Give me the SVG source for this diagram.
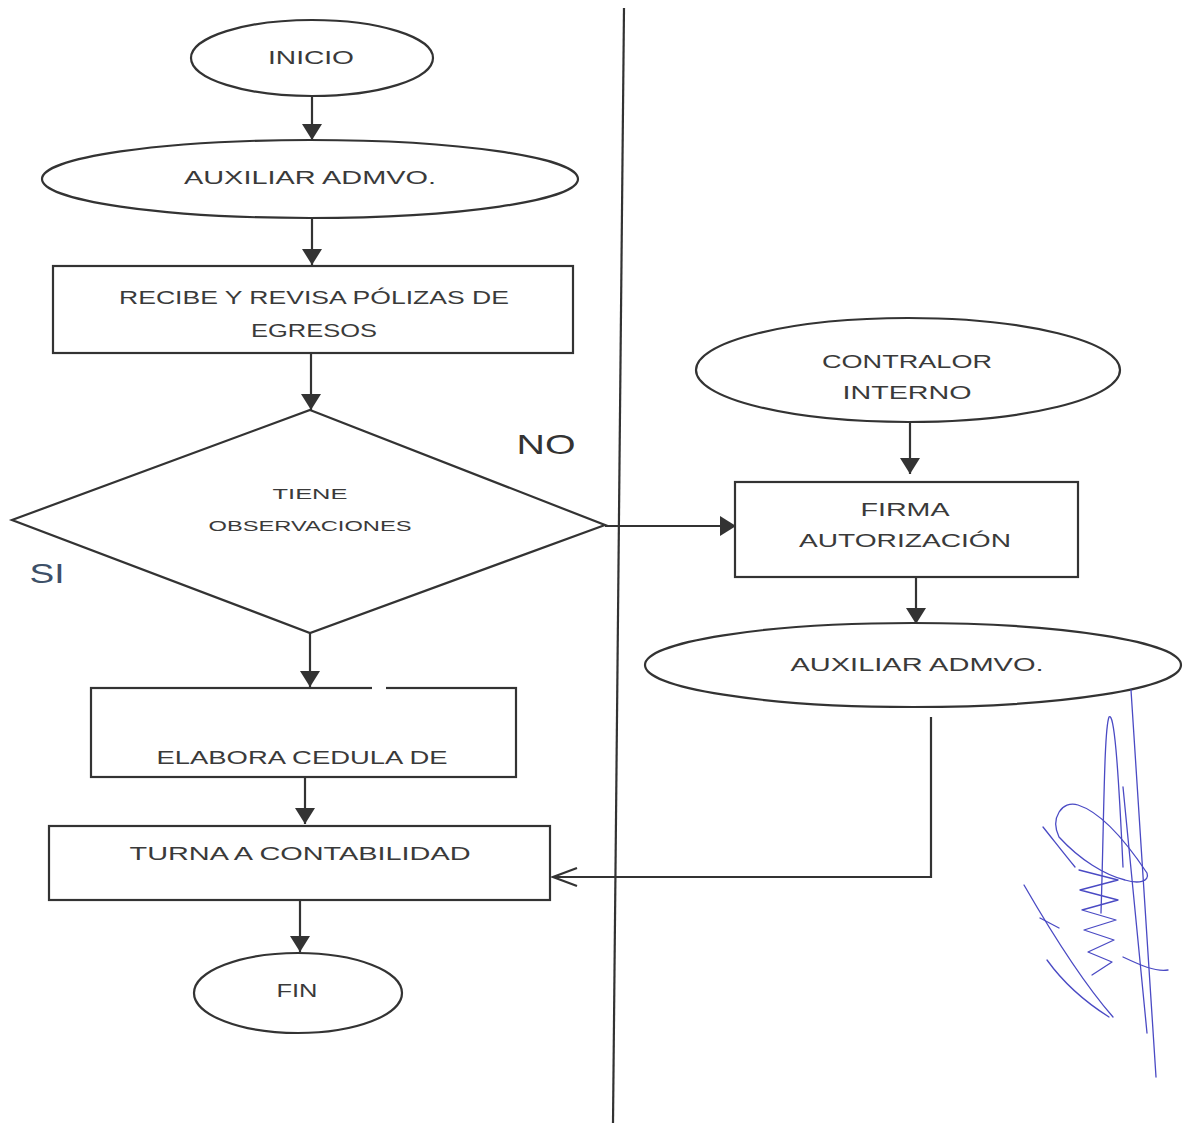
<svg xmlns="http://www.w3.org/2000/svg" width="1183" height="1123" viewBox="0 0 1183 1123">
<style>
.shape{fill:#fff;stroke:#333;stroke-width:2.2}
.t{font-family:"Liberation Sans","Open Sans",Arial,sans-serif;font-size:18px;fill:#3a3a3a;text-anchor:middle}
.s{font-size:15px}
.lbl{font-family:"Liberation Sans","Open Sans",Arial,sans-serif;font-size:28px;fill:#333;text-anchor:middle}
.con{fill:none;stroke:#333;stroke-width:2.2}
.sig{fill:none;stroke:#4a4ac4;stroke-width:1.3;stroke-linecap:round;stroke-linejoin:round}
</style>
<defs>
<marker id="ah" markerUnits="userSpaceOnUse" markerWidth="22" markerHeight="22" refX="16" refY="10" orient="auto">
<path d="M0,0 L16,10 L0,20 Z" fill="#333"/>
</marker>
<marker id="oh" markerUnits="userSpaceOnUse" markerWidth="30" markerHeight="24" refX="25" refY="11" orient="auto">
<path d="M1,2 L25,11 L1,20" fill="none" stroke="#333" stroke-width="2.2"/>
</marker>
</defs>
<rect width="1183" height="1123" fill="#fff"/>
<line x1="624" y1="8" x2="613" y2="1123" stroke="#333" stroke-width="2.2"/>
<g id="connectors">
<line class="con" x1="312" y1="95" x2="312" y2="140" marker-end="url(#ah)"/>
<line class="con" x1="312" y1="218" x2="312" y2="265" marker-end="url(#ah)"/>
<line class="con" x1="311" y1="353" x2="311" y2="410" marker-end="url(#ah)"/>
<line class="con" x1="310" y1="633" x2="310" y2="687" marker-end="url(#ah)"/>
<line class="con" x1="305" y1="777" x2="305" y2="824" marker-end="url(#ah)"/>
<line class="con" x1="300" y1="900" x2="300" y2="952" marker-end="url(#ah)"/>
<line class="con" x1="605" y1="526" x2="736" y2="526" marker-end="url(#ah)"/>
<line class="con" x1="910" y1="423" x2="910" y2="474" marker-end="url(#ah)"/>
<line class="con" x1="916" y1="577" x2="916" y2="624" marker-end="url(#ah)"/>
<polyline class="con" points="931,717 931,877 553,877" marker-end="url(#oh)"/>
</g>
<g id="inicio">
<ellipse class="shape" cx="312" cy="58" rx="121" ry="38"/>
<text class="t" x="311" y="64" textLength="86" lengthAdjust="spacingAndGlyphs">INICIO</text>
</g>
<g id="auxiliar1">
<ellipse class="shape" cx="310" cy="179" rx="268" ry="39"/>
<text class="t" x="310" y="184" textLength="252" lengthAdjust="spacingAndGlyphs">AUXILIAR ADMVO.</text>
</g>
<g id="recibe">
<rect class="shape" x="53" y="266" width="520" height="87"/>
<text class="t" x="314" y="304" textLength="390" lengthAdjust="spacingAndGlyphs">RECIBE Y REVISA PÓLIZAS DE</text>
<text class="t" x="314" y="337" textLength="126" lengthAdjust="spacingAndGlyphs">EGRESOS</text>
</g>
<g id="decision">
<polygon class="shape" points="310,410 605,525 310,633 12,520"/>
<text class="t s" x="310" y="499" textLength="75" lengthAdjust="spacingAndGlyphs">TIENE</text>
<text class="t s" x="310" y="531" textLength="203" lengthAdjust="spacingAndGlyphs">OBSERVACIONES</text>
</g>
<text class="lbl" x="546" y="454" textLength="59" lengthAdjust="spacingAndGlyphs">NO</text>
<text class="lbl" x="47" y="583" style="fill:#3d5068" textLength="35" lengthAdjust="spacingAndGlyphs">SI</text>
<g id="elabora">
<rect class="shape" x="91" y="688" width="425" height="89"/>
<line x1="372" y1="688" x2="386" y2="688" stroke="#fff" stroke-width="4"/>
<text class="t" x="302" y="764" textLength="291" lengthAdjust="spacingAndGlyphs">ELABORA CEDULA DE</text>
</g>
<g id="turna">
<rect class="shape" x="49" y="826" width="501" height="74"/>
<text class="t" x="300" y="860" textLength="341" lengthAdjust="spacingAndGlyphs">TURNA A CONTABILIDAD</text>
</g>
<g id="fin">
<ellipse class="shape" cx="298" cy="993" rx="104" ry="40"/>
<text class="t" x="297" y="997" textLength="41" lengthAdjust="spacingAndGlyphs">FIN</text>
</g>
<g id="contralor">
<ellipse class="shape" cx="908" cy="370" rx="212" ry="52"/>
<text class="t" x="907" y="368" textLength="170" lengthAdjust="spacingAndGlyphs">CONTRALOR</text>
<text class="t" x="907" y="399" textLength="129" lengthAdjust="spacingAndGlyphs">INTERNO</text>
</g>
<g id="firma">
<rect class="shape" x="735" y="482" width="343" height="95"/>
<text class="t" x="905" y="516" textLength="89" lengthAdjust="spacingAndGlyphs">FIRMA</text>
<text class="t" x="905" y="547" textLength="212" lengthAdjust="spacingAndGlyphs">AUTORIZACIÓN</text>
</g>
<g id="auxiliar2">
<ellipse class="shape" cx="913" cy="665" rx="268" ry="42"/>
<text class="t" x="917" y="671" textLength="253" lengthAdjust="spacingAndGlyphs">AUXILIAR ADMVO.</text>
</g>
<g id="signature">
<path class="sig" d="M1131,690 L1156,1077"/>
<path class="sig" d="M1123,787 L1147,1033"/>
<path class="sig" d="M1101,913 C1104,820 1104,730 1109,717 C1114,712 1118,760 1123,867"/>
<path class="sig" d="M1059,837 C1050,818 1062,800 1078,805 C1100,812 1125,840 1147,873 C1150,882 1138,884 1125,880 C1105,875 1080,860 1059,837 Z"/>
<path class="sig" d="M1024,885 C1050,930 1085,985 1113,1017"/>
<path class="sig" d="M1047,960 C1065,985 1090,1005 1109,1017"/>
<path class="sig" d="M1043,827 C1055,842 1065,855 1075,867"/>
<path class="sig" d="M1079,870 L1118,880 L1080,890 L1118,900 L1082,910 L1116,920 L1084,930 L1114,940 L1088,952 L1112,962 L1092,975"/>
<path class="sig" d="M1123,957 C1140,965 1155,972 1168,970"/>
<path class="sig" d="M1040,918 L1059,928"/>
</g>
</svg>
